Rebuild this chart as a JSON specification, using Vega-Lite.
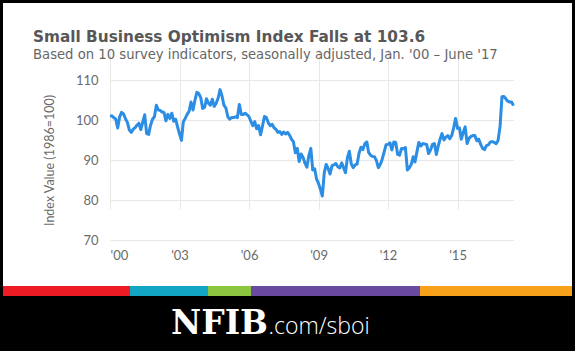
{
  "$schema": "https://vega.github.io/schema/vega-lite/v6.json",
  "background": "black",
  "padding": {"left": 3, "right": 3, "top": 3, "bottom": 0},
  "spacing": 0,
  "bounds": "flush",
  "config": {"view": {"stroke": null}, "font": "Lato"},
  "vconcat": [
    {
      "width": 569,
      "height": 283,
      "view": {"fill": "white", "stroke": null},
      "title": {
        "text": "Small Business Optimism Index Falls at 103.6",
        "subtitle": "Based on 10 survey indicators, seasonally adjusted, Jan. '00 – June '17",
        "anchor": "start",
        "frame": "group",
        "offset": -58,
        "dx": 30,
        "font": "DejaVu Sans",
        "fontSize": 15.3,
        "fontWeight": "bold",
        "color": "#575757",
        "subtitleFont": "DejaVu Sans",
        "subtitleFontSize": 13.2,
        "subtitleColor": "#666666",
        "subtitlePadding": 4
      },
      "data": {
        "values": [
          {"m": "2000-01", "v": 101.1}, {"m": "2000-02", "v": 101.0}, {"m": "2000-03", "v": 100.6}, {"m": "2000-04", "v": 100.2}, {"m": "2000-05", "v": 98.0}, {"m": "2000-06", "v": 100.8}, {"m": "2000-07", "v": 101.9}, {"m": "2000-08", "v": 101.5}, {"m": "2000-09", "v": 100.3}, {"m": "2000-10", "v": 99.4}, {"m": "2000-11", "v": 97.5}, {"m": "2000-12", "v": 96.9},
          {"m": "2001-01", "v": 97.7}, {"m": "2001-02", "v": 98.1}, {"m": "2001-03", "v": 98.7}, {"m": "2001-04", "v": 99.2}, {"m": "2001-05", "v": 97.6}, {"m": "2001-06", "v": 99.5}, {"m": "2001-07", "v": 101.3}, {"m": "2001-08", "v": 96.6}, {"m": "2001-09", "v": 96.4}, {"m": "2001-10", "v": 98.7}, {"m": "2001-11", "v": 100.2}, {"m": "2001-12", "v": 100.8},
          {"m": "2002-01", "v": 103.7}, {"m": "2002-02", "v": 102.5}, {"m": "2002-03", "v": 102.4}, {"m": "2002-04", "v": 102.0}, {"m": "2002-05", "v": 101.9}, {"m": "2002-06", "v": 99.8}, {"m": "2002-07", "v": 101.4}, {"m": "2002-08", "v": 100.4}, {"m": "2002-09", "v": 101.7}, {"m": "2002-10", "v": 99.7}, {"m": "2002-11", "v": 100.2}, {"m": "2002-12", "v": 98.3},
          {"m": "2003-01", "v": 96.5}, {"m": "2003-02", "v": 94.9}, {"m": "2003-03", "v": 99.5}, {"m": "2003-04", "v": 100.4}, {"m": "2003-05", "v": 101.4}, {"m": "2003-06", "v": 102.2}, {"m": "2003-07", "v": 104.5}, {"m": "2003-08", "v": 102.5}, {"m": "2003-09", "v": 104.9}, {"m": "2003-10", "v": 106.9}, {"m": "2003-11", "v": 106.6}, {"m": "2003-12", "v": 105.6},
          {"m": "2004-01", "v": 102.9}, {"m": "2004-02", "v": 103.2}, {"m": "2004-03", "v": 105.3}, {"m": "2004-04", "v": 104.2}, {"m": "2004-05", "v": 103.7}, {"m": "2004-06", "v": 105.2}, {"m": "2004-07", "v": 103.4}, {"m": "2004-08", "v": 104.2}, {"m": "2004-09", "v": 105.5}, {"m": "2004-10", "v": 107.6}, {"m": "2004-11", "v": 106.0}, {"m": "2004-12", "v": 103.7},
          {"m": "2005-01", "v": 103.0}, {"m": "2005-02", "v": 100.8}, {"m": "2005-03", "v": 100.2}, {"m": "2005-04", "v": 100.6}, {"m": "2005-05", "v": 100.6}, {"m": "2005-06", "v": 100.8}, {"m": "2005-07", "v": 100.6}, {"m": "2005-08", "v": 103.9}, {"m": "2005-09", "v": 101.4}, {"m": "2005-10", "v": 101.4}, {"m": "2005-11", "v": 101.7}, {"m": "2005-12", "v": 101.3},
          {"m": "2006-01", "v": 100.8}, {"m": "2006-02", "v": 99.6}, {"m": "2006-03", "v": 98.6}, {"m": "2006-04", "v": 99.6}, {"m": "2006-05", "v": 97.8}, {"m": "2006-06", "v": 98.6}, {"m": "2006-07", "v": 96.3}, {"m": "2006-08", "v": 98.5}, {"m": "2006-09", "v": 100.9}, {"m": "2006-10", "v": 100.6}, {"m": "2006-11", "v": 99.3}, {"m": "2006-12", "v": 98.6},
          {"m": "2007-01", "v": 98.9}, {"m": "2007-02", "v": 98.0}, {"m": "2007-03", "v": 97.7}, {"m": "2007-04", "v": 96.9}, {"m": "2007-05", "v": 97.1}, {"m": "2007-06", "v": 96.4}, {"m": "2007-07", "v": 97.0}, {"m": "2007-08", "v": 96.5}, {"m": "2007-09", "v": 96.9}, {"m": "2007-10", "v": 96.2}, {"m": "2007-11", "v": 95.2}, {"m": "2007-12", "v": 94.6},
          {"m": "2008-01", "v": 91.8}, {"m": "2008-02", "v": 92.9}, {"m": "2008-03", "v": 89.6}, {"m": "2008-04", "v": 91.5}, {"m": "2008-05", "v": 90.7}, {"m": "2008-06", "v": 89.2}, {"m": "2008-07", "v": 88.2}, {"m": "2008-08", "v": 91.1}, {"m": "2008-09", "v": 92.9}, {"m": "2008-10", "v": 87.5}, {"m": "2008-11", "v": 87.8}, {"m": "2008-12", "v": 85.2},
          {"m": "2009-01", "v": 84.1}, {"m": "2009-02", "v": 82.6}, {"m": "2009-03", "v": 81.0}, {"m": "2009-04", "v": 86.8}, {"m": "2009-05", "v": 88.9}, {"m": "2009-06", "v": 87.9}, {"m": "2009-07", "v": 86.5}, {"m": "2009-08", "v": 88.6}, {"m": "2009-09", "v": 88.8}, {"m": "2009-10", "v": 89.1}, {"m": "2009-11", "v": 88.3}, {"m": "2009-12", "v": 88.0},
          {"m": "2010-01", "v": 89.3}, {"m": "2010-02", "v": 88.0}, {"m": "2010-03", "v": 86.8}, {"m": "2010-04", "v": 90.6}, {"m": "2010-05", "v": 92.2}, {"m": "2010-06", "v": 89.0}, {"m": "2010-07", "v": 88.1}, {"m": "2010-08", "v": 88.8}, {"m": "2010-09", "v": 89.0}, {"m": "2010-10", "v": 91.7}, {"m": "2010-11", "v": 93.2}, {"m": "2010-12", "v": 92.6},
          {"m": "2011-01", "v": 94.1}, {"m": "2011-02", "v": 94.5}, {"m": "2011-03", "v": 91.9}, {"m": "2011-04", "v": 91.2}, {"m": "2011-05", "v": 90.9}, {"m": "2011-06", "v": 90.8}, {"m": "2011-07", "v": 89.9}, {"m": "2011-08", "v": 88.1}, {"m": "2011-09", "v": 88.9}, {"m": "2011-10", "v": 90.2}, {"m": "2011-11", "v": 92.0}, {"m": "2011-12", "v": 93.8},
          {"m": "2012-01", "v": 93.9}, {"m": "2012-02", "v": 94.3}, {"m": "2012-03", "v": 92.5}, {"m": "2012-04", "v": 94.5}, {"m": "2012-05", "v": 94.4}, {"m": "2012-06", "v": 91.4}, {"m": "2012-07", "v": 91.2}, {"m": "2012-08", "v": 92.9}, {"m": "2012-09", "v": 92.8}, {"m": "2012-10", "v": 93.1}, {"m": "2012-11", "v": 87.5}, {"m": "2012-12", "v": 88.0},
          {"m": "2013-01", "v": 88.9}, {"m": "2013-02", "v": 90.8}, {"m": "2013-03", "v": 89.5}, {"m": "2013-04", "v": 92.1}, {"m": "2013-05", "v": 94.4}, {"m": "2013-06", "v": 93.5}, {"m": "2013-07", "v": 94.1}, {"m": "2013-08", "v": 94.0}, {"m": "2013-09", "v": 93.9}, {"m": "2013-10", "v": 91.6}, {"m": "2013-11", "v": 92.5}, {"m": "2013-12", "v": 93.9},
          {"m": "2014-01", "v": 94.1}, {"m": "2014-02", "v": 91.4}, {"m": "2014-03", "v": 93.4}, {"m": "2014-04", "v": 95.2}, {"m": "2014-05", "v": 96.6}, {"m": "2014-06", "v": 95.0}, {"m": "2014-07", "v": 95.7}, {"m": "2014-08", "v": 96.1}, {"m": "2014-09", "v": 95.3}, {"m": "2014-10", "v": 96.1}, {"m": "2014-11", "v": 98.1}, {"m": "2014-12", "v": 100.4},
          {"m": "2015-01", "v": 97.9}, {"m": "2015-02", "v": 98.0}, {"m": "2015-03", "v": 95.2}, {"m": "2015-04", "v": 96.9}, {"m": "2015-05", "v": 98.3}, {"m": "2015-06", "v": 94.1}, {"m": "2015-07", "v": 95.4}, {"m": "2015-08", "v": 95.9}, {"m": "2015-09", "v": 96.1}, {"m": "2015-10", "v": 96.1}, {"m": "2015-11", "v": 94.8}, {"m": "2015-12", "v": 95.2},
          {"m": "2016-01", "v": 93.9}, {"m": "2016-02", "v": 92.9}, {"m": "2016-03", "v": 92.6}, {"m": "2016-04", "v": 93.6}, {"m": "2016-05", "v": 93.8}, {"m": "2016-06", "v": 94.5}, {"m": "2016-07", "v": 94.6}, {"m": "2016-08", "v": 94.4}, {"m": "2016-09", "v": 94.1}, {"m": "2016-10", "v": 94.9}, {"m": "2016-11", "v": 98.4}, {"m": "2016-12", "v": 105.8},
          {"m": "2017-01", "v": 105.9}, {"m": "2017-02", "v": 105.3}, {"m": "2017-03", "v": 104.7}, {"m": "2017-04", "v": 104.5}, {"m": "2017-05", "v": 104.5}, {"m": "2017-06", "v": 103.6}
        ]
      },
      "mark": {"type": "line", "color": "#2b8de3", "strokeWidth": 3, "strokeJoin": "round"},
      "encoding": {
        "x": {
          "field": "m",
          "type": "temporal",
          "scale": {
            "type": "utc",
            "domain": [{"year": 2000, "month": 1, "date": 1, "utc": true}, {"year": 2017, "month": 6, "date": 1, "utc": true}],
            "range": [107, 510.5]
          },
          "axis": {
            "orient": "bottom",
            "offset": -46,
            "values": [
              {"year": 2000, "month": 1, "date": 1, "utc": true},
              {"year": 2003, "month": 1, "date": 1, "utc": true},
              {"year": 2006, "month": 1, "date": 1, "utc": true},
              {"year": 2009, "month": 1, "date": 1, "utc": true},
              {"year": 2012, "month": 1, "date": 1, "utc": true},
              {"year": 2015, "month": 1, "date": 1, "utc": true}
            ],
            "format": "'%y",
            "grid": true,
            "gridColor": "#e8e8e8",
            "domain": false,
            "ticks": false,
            "labelPadding": 9,
            "labelFont": "Lato",
            "labelFontSize": 13,
            "labelColor": "#6a6a6a",
            "title": null
          }
        },
        "y": {
          "field": "v",
          "type": "quantitative",
          "scale": {"domain": [70, 110], "range": [237, 77], "nice": false, "zero": false},
          "axis": {
            "orient": "left",
            "offset": -107,
            "values": [70, 80, 90, 100, 110],
            "grid": true,
            "gridColor": "#e8e8e8",
            "domain": false,
            "ticks": false,
            "labelPadding": 12,
            "labelFont": "Lato",
            "labelFontSize": 13,
            "labelColor": "#6a6a6a",
            "title": "Index Value (1986=100)",
            "titleFont": "Lato",
            "titleFontSize": 12.5,
            "titleFontWeight": "normal",
            "titleColor": "#6a6a6a",
            "titlePadding": 19
          }
        }
      }
    },
    {
      "width": 569,
      "height": 10,
      "data": {
        "values": [
          {"seg": "red", "len": 130, "i": 1},
          {"seg": "teal", "len": 78, "i": 2},
          {"seg": "green", "len": 43, "i": 3},
          {"seg": "purple", "len": 169, "i": 4},
          {"seg": "orange", "len": 155, "i": 5}
        ]
      },
      "transform": [{"stack": "len", "groupby": [], "sort": [{"field": "i", "order": "ascending"}], "as": ["x0", "x1"]}],
      "mark": "rect",
      "encoding": {
        "x": {"field": "x0", "type": "quantitative", "scale": {"domain": [3, 572], "clamp": true, "nice": false, "zero": false}, "axis": null},
        "x2": {"field": "x1"},
        "color": {
          "field": "seg",
          "type": "nominal",
          "scale": {"domain": ["red", "teal", "green", "purple", "orange"], "range": ["#ed1c24", "#13a5c4", "#8cc63f", "#6a4a9e", "#f7a11a"]},
          "legend": null
        }
      }
    },
    {
      "width": 569,
      "height": 55,
      "data": {"values": [{"brand": "NFIB", "site": ".com/sboi"}]},
      "layer": [
        {
          "mark": {"type": "text", "font": "DejaVu Serif", "fontWeight": "bold", "fontSize": 33, "color": "white", "align": "right", "baseline": "alphabetic", "dx": -19.5, "dy": 10.5},
          "encoding": {"text": {"field": "brand"}}
        },
        {
          "mark": {"type": "text", "font": "Open Sans", "fontWeight": 300, "fontSize": 23, "color": "white", "align": "left", "baseline": "alphabetic", "dx": -19, "dy": 10.5},
          "encoding": {"text": {"field": "site"}}
        }
      ]
    }
  ]
}
